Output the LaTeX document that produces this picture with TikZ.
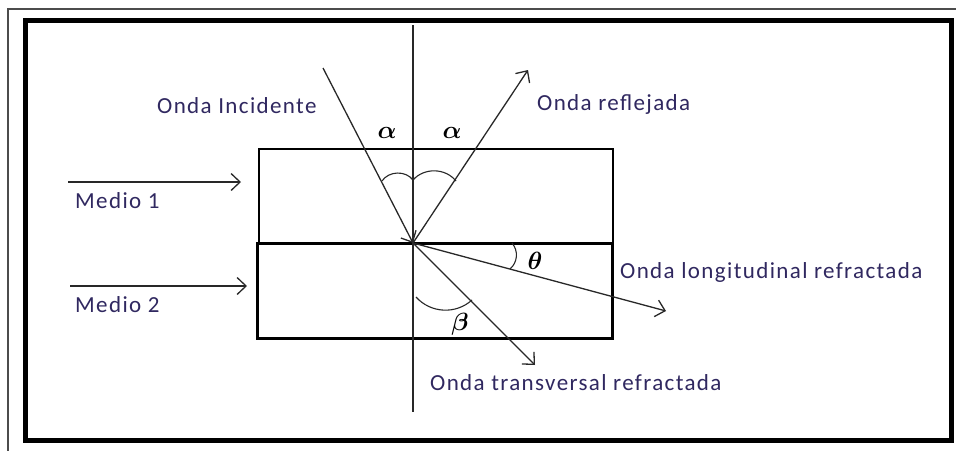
\documentclass[tikz,border=0pt]{standalone}
\usepackage{amsmath,bm}
\usepackage{fontspec}
\setmainfont{Carlito}
\usetikzlibrary{arrows.meta}
\definecolor{ink}{RGB}{48,40,96}
\definecolor{lineg}{RGB}{40,40,40}
\tikzset{lbl/.style={anchor=base west,inner sep=0pt,text=ink,font=\fontsize{23}{27}\selectfont\addfontfeatures{LetterSpace=6}},greek/.style={inner sep=0pt,font=\fontsize{27}{30}\selectfont},ray/.style={-{Straight Barb[length=9pt,width=17pt]},line width=1.3pt,draw=lineg},arcw/.style={line width=1.1pt,draw=lineg}}

\begin{document}
\begin{tikzpicture}[x=1pt,y=-1pt]
\useasboundingbox (0,0) rectangle (956,450);
\fill[white] (0,0) rectangle (956,450);
\draw[line width=1.3pt,draw=black!70] (8,9) rectangle (962,460);
\draw[line width=5pt] (25,20) rectangle (951,440);
% medios
\draw[line width=1.3pt] (259,149) rectangle (613,243);
\draw[line width=3pt] (257,243) rectangle (612,338);
% normal y rayos
\coordinate (O) at (413,243);
\coordinate (ntop) at (413,25);
\coordinate (nbot) at (413,412);
\coordinate (inc) at (323,68);
\coordinate (refl) at (528,70);
\coordinate (lon) at (666,311);
\coordinate (tra) at (535,365);
\coordinate (m1a) at (68,182);
\coordinate (m1b) at (241,182);
\coordinate (m2a) at (70,286);
\coordinate (m2b) at (247,286);
\draw[line width=1.3pt,draw=lineg] (ntop)--(nbot);
\draw[ray] (inc)--(O);
\draw[ray] (O)--(refl);
\draw[ray] (O)--(lon);
\draw[ray] (O)--(tra);
\draw[ray] (m1a)--(m1b);
\draw[ray] (m2a)--(m2b);
% angulos
\draw[arcw] (382,181) to[bend left=55] (413,180);
\draw[arcw] (413,180) to[bend left=50] (456,181);
\draw[arcw] (512,243) to[bend left=45] (510,269);
\draw[arcw] (416,297) to[bend right=45] (472,300);
\node[greek] (a1) at (387,133) {$\bm{\alpha}$};
\node[greek] (a2) at (452,133) {$\bm{\alpha}$};
\node[greek] (th) at (535,261) {$\bm{\theta}$};
\node[greek] (be) at (460,324) {$\bm{\beta}$};
% textos
\node[lbl] (tinc) at (157,113) {Onda Incidente};
\node[lbl] (trefl) at (537,110) {Onda reflejada};
\node[lbl] (tm1) at (75,208) {Medio 1};
\node[lbl] (tm2) at (75,312) {Medio 2};
\node[lbl] (tlon) at (620,278) {Onda longitudinal refractada};
\node[lbl] (ttra) at (430,390) {Onda transversal refractada};
\end{tikzpicture}
\end{document}
